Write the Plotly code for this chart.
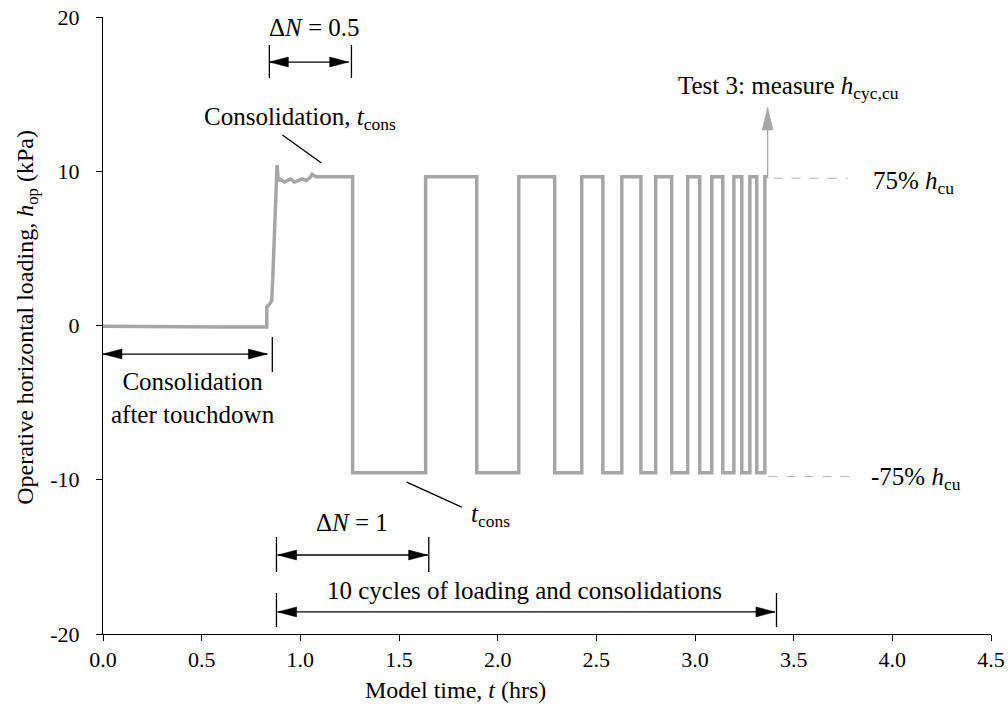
import plotly.graph_objects as go

# ---- data ----
# initial consolidation & first loading (time in hrs, load in kPa)
early_t = [0.0, 0.30, 0.60, 0.830, 0.830, 0.845, 0.855, 0.860, 0.870, 0.878, 0.882, 0.888, 0.895, 0.92, 0.95, 0.97, 0.99, 1.01, 1.03, 1.05, 1.06, 1.08, 1.265]
early_h = [-0.05, -0.1, -0.1, -0.1, 1.2, 1.4, 1.6, 3.0, 7.0, 10.4, 10.4, 9.4, 9.5, 9.3, 9.5, 9.3, 9.4, 9.5, 9.4, 9.6, 9.8, 9.65, 9.65]
# switching times of the ten cycles
t_down = [1.265, 1.894, 2.289, 2.533, 2.726, 2.882, 3.024, 3.141, 3.237, 3.313]
t_up = [1.635, 2.107, 2.426, 2.629, 2.801, 2.963, 3.085, 3.197, 3.278, 3.354]
t_end = 3.365
h_high = 9.65
h_low = -9.55
ref_high = 9.55
ref_low = -9.8

x_ticks = [0.0, 0.5, 1.0, 1.5, 2.0, 2.5, 3.0, 3.5, 4.0, 4.5]
x_ticktext = ["0.0", "0.5", "1.0", "1.5", "2.0", "2.5", "3.0", "3.5", "4.0", "4.5"]
y_ticks = [-20, -10, 0, 10, 20]
y_ticktext = ["-20", "-10", "0", "10", "20"]

# build the step trace from the readings
xs = list(early_t)
ys = list(early_h)
for i, (td, tu) in enumerate(zip(t_down, t_up)):
    if i > 0:
        xs.append(td); ys.append(h_high)
    xs.append(td); ys.append(h_low)
    xs.append(tu); ys.append(h_low)
    xs.append(tu); ys.append(h_high)
xs.append(t_end); ys.append(h_high)

FONT = "Liberation Serif, Times New Roman, serif"
AS = 25  # annotation font size
fig = go.Figure()
fig.add_trace(go.Scatter(x=xs, y=ys, mode="lines",
                         line=dict(color="#a6a6a6", width=3.5),
                         hoverinfo="skip", showlegend=False))

shapes = []
annotations = []

def seg(x0, y0, x1, y1, color="black", width=1.3, dash=None):
    shapes.append(dict(type="line", xref="x", yref="y", x0=x0, y0=y0, x1=x1, y1=y1,
                       line=dict(color=color, width=width, dash=dash)))

def head(x, y, direction, length=19, half=5, color="black"):
    if direction == "right":
        p = f"M0,0 L{-length},{half} L{-length},{-half} Z"
    elif direction == "left":
        p = f"M0,0 L{length},{half} L{length},{-half} Z"
    else:  # up
        p = f"M0,0 L{-half},{-length} L{half},{-length} Z"
    shapes.append(dict(type="path", xref="x", yref="y", xsizemode="pixel", ysizemode="pixel",
                       xanchor=x, yanchor=y, path=p, fillcolor=color,
                       line=dict(color=color, width=0.5)))

def darrow(x0, x1, y):
    seg(x0, y, x1, y)
    head(x0, y, "left")
    head(x1, y, "right")

def txt(x, y, text, size=AS, xanchor="center", xref="x", yref="y", angle=0):
    annotations.append(dict(x=x, y=y, xref=xref, yref=yref, text=text, showarrow=False,
                            xanchor=xanchor, yanchor="middle", textangle=angle,
                            font=dict(family=FONT, size=size, color="black")))

# dN = 0.5
seg(0.843, 16.05, 0.843, 18.18)
seg(1.259, 16.05, 1.259, 18.18)
darrow(0.843, 1.245, 17.08)
txt(1.072, 19.35, "Δ<i>N</i> = 0.5")

# Consolidation, t_cons (top)
txt(0.50, 13.45, "Consolidation, <i>t</i><sub>cons</sub>", xanchor="left")
seg(0.909, 12.35, 1.107, 10.53)

# Consolidation after touchdown
darrow(0.0, 0.833, -1.85)
seg(0.858, -0.75, 0.858, -3.01)
txt(0.457, -4.67, "Consolidation<br>after touchdown")

# t_cons (bottom)
seg(1.539, -10.15, 1.818, -11.77)
txt(1.854, -12.29, "<i>t</i><sub>cons</sub>", xanchor="left")

# dN = 1
txt(1.26, -12.74, "Δ<i>N</i> = 1")
seg(0.879, -13.71, 0.879, -15.98)
seg(1.651, -13.71, 1.651, -15.98)
darrow(0.885, 1.645, -14.88)

# 10 cycles
txt(2.138, -17.15, "10 cycles of loading and consolidations")
seg(0.879, -17.34, 0.879, -19.55)
seg(3.413, -17.34, 3.413, -19.55)
darrow(0.885, 3.405, -18.57)

# Test 3 arrow
seg(3.368, ref_high, 3.368, 13.0, color="#a6a6a6", width=1.3)
head(3.368, 14.16, "up", length=23, half=5.5, color="#a6a6a6")
txt(2.905, 15.46, "Test 3: measure <i>h</i><sub>cyc,cu</sub>", xanchor="left")

# reference levels
seg(3.398, ref_high, 3.773, ref_high, color="#b0b0b0", width=1, dash="dash")
seg(3.372, ref_low, 3.789, ref_low, color="#b0b0b0", width=1, dash="dash")
txt(3.89, 9.24, "75% <i>h</i><sub>cu</sub>", xanchor="left")
txt(3.88, -9.89, "-75% <i>h</i><sub>cu</sub>", xanchor="left")

# axis titles
txt(-0.0857, 0.514, "Operative horizontal loading, <i>h</i><sub>op</sub> (kPa)",
    size=24, xref="paper", yref="paper", angle=-90)
txt(0.397, -0.0908, "Model time, <i>t</i> (hrs)", size=24, xref="paper", yref="paper")

fig.update_layout(
    width=1008, height=720,
    margin=dict(l=103, r=17, t=17, b=86, autoexpand=False),
    paper_bgcolor="white", plot_bgcolor="white",
    font=dict(family=FONT, size=22, color="black"),
    shapes=shapes, annotations=annotations,
    showlegend=False,
)
fig.update_xaxes(range=[0, 4.5], tickvals=x_ticks, ticktext=x_ticktext,
                 showline=True, linecolor="black", linewidth=1,
                 ticks="outside", ticklen=6, tickcolor="black",
                 showgrid=False, zeroline=False, automargin=False,
                 tickfont=dict(family=FONT, size=22, color="black"))
fig.update_yaxes(range=[-20, 20], tickvals=y_ticks, ticktext=y_ticktext,
                 showline=True, linecolor="black", linewidth=1,
                 ticks="outside", ticklen=6, tickcolor="black",
                 showgrid=False, zeroline=False, automargin=False, ticklabelstandoff=12,
                 tickfont=dict(family=FONT, size=22, color="black"))

fig.write_html("out.html")
